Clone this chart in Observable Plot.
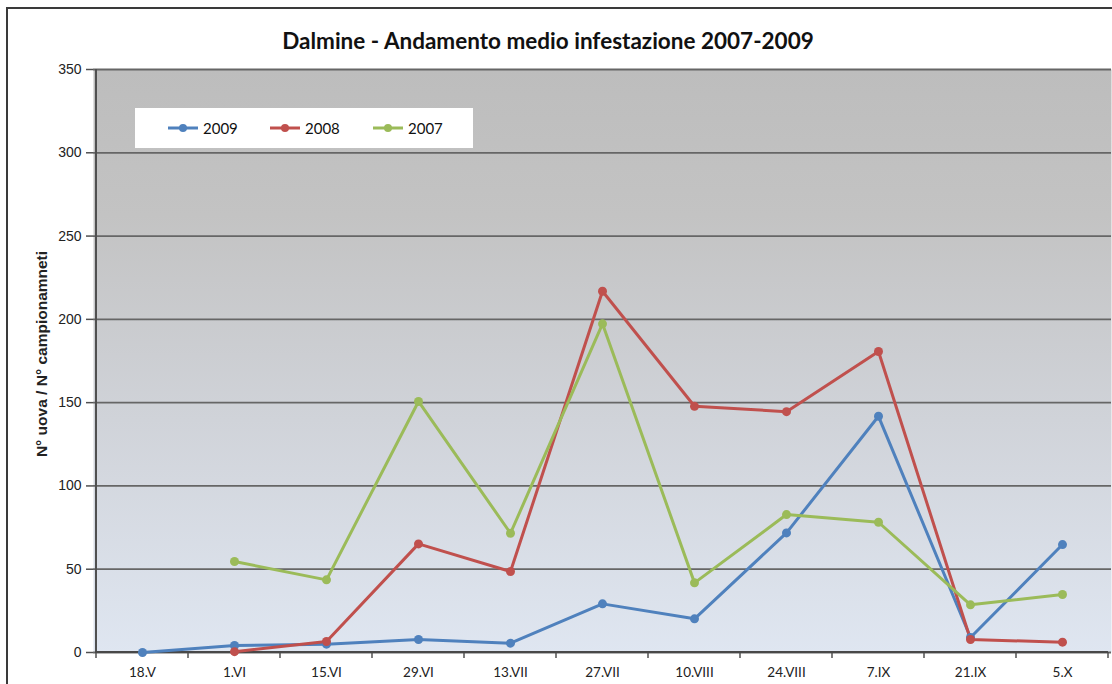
<!DOCTYPE html>
<html>
<head>
<meta charset="utf-8">
<script src="https://cdn.jsdelivr.net/npm/d3@7"></script>
<script src="https://cdn.jsdelivr.net/npm/@observablehq/plot@0.6"></script>
<style>
  html, body { margin: 0; padding: 0; background: #fff; overflow: hidden; }
  #wrap { position: relative; width: 1112px; height: 684px; overflow: hidden; }
  #border { position: absolute; left: 6px; top: 7px; width: 1106px; height: 677px; border-left: 2px solid #3a3a3a; border-top: 2px solid #3a3a3a; box-sizing: border-box; pointer-events: none; }
  #title { position: absolute; left: 0; top: 27px; width: 1096px; text-align: center; font: bold 22.5px Lato, "Open Sans", sans-serif; color: #111; }
  #legend { position: absolute; left: 135px; top: 108px; width: 338px; height: 40px; background: #fff; font: 15px Lato, sans-serif; color: #111; }
  .item { display: flex; align-items: center; position: absolute; top: 0; height: 40px; }
  .item svg { margin-right: 5px; }
  #chart { position: absolute; left: 0; top: 0; }
</style>
</head>
<body>
<div id="wrap">
  <div id="chart"></div>
  <div id="title"></div>
  <div id="legend"></div>
  <div id="border"></div>
</div>
<script>
const titleText = "Dalmine - Andamento medio infestazione 2007-2009";
const yLabel = "N° uova / N° campionamneti";
const dates = ["18.V", "1.VI", "15.VI", "29.VI", "13.VII", "27.VII", "10.VIII", "24.VIII", "7.IX", "21.IX", "5.X"];
const years = ["2009", "2008", "2007"];
const colors = ["#4f81bd", "#c0504d", "#9bbb59"];
const v2009 = [0, 4.2, 5.0, 7.8, 5.6, 29.2, 20.2, 71.8, 141.8, 9.0, 64.8];
const v2008 = [null, 0.5, 6.6, 65.2, 48.6, 216.9, 147.8, 144.6, 180.7, 7.8, 6.2];
const v2007 = [null, 54.6, 43.6, 150.7, 71.6, 197.3, 41.8, 82.8, 78.2, 28.6, 34.8];
const yTicks = [0, 50, 100, 150, 200, 250, 300, 350];

const seriesValues = {"2009": v2009, "2008": v2008, "2007": v2007};
const rows = years.flatMap(yr => dates.map((d, i) => ({date: d, year: yr, v: seriesValues[yr][i]})))
  .filter(r => r.v != null);

document.getElementById("title").textContent = titleText;

// Legend
const legend = document.getElementById("legend");
const legendX = [33, 135, 238];
years.forEach((yr, i) => {
  const it = document.createElement("div");
  it.className = "item";
  it.style.left = legendX[i] + "px";
  it.innerHTML = `<svg width="30" height="10"><line x1="0" x2="30" y1="5" y2="5" stroke="${colors[i]}" stroke-width="3"/><circle cx="15" cy="5" r="4" fill="${colors[i]}"/></svg><span>${yr}</span>`;
  legend.appendChild(it);
});

function boundaryTicks(index, scales) {
  const x = scales.x, y = scales.y;
  const step = x(dates[1]) - x(dates[0]);
  const y0 = y(0);
  const bounds = dates.map(d => x(d) - step / 2).concat([x(dates[dates.length - 1]) + step / 2]);
  const g = d3.create("svg:g");
  g.selectAll("line.t").data(bounds).join("line")
    .attr("x1", d => d).attr("x2", d => d)
    .attr("y1", y0).attr("y2", y0 + 6)
    .attr("stroke", "#505050").attr("stroke-width", 1.5);
  g.append("line")
    .attr("x1", bounds[0]).attr("x2", bounds[0])
    .attr("y1", y(350)).attr("y2", y0 + 1)
    .attr("stroke", "#505050").attr("stroke-width", 2);
  g.append("line")
    .attr("x1", bounds[0] - 1).attr("x2", bounds[bounds.length - 1])
    .attr("y1", y0).attr("y2", y0)
    .attr("stroke", "#484848").attr("stroke-width", 2);
  return g.node();
}

const chart = Plot.plot({
  width: 1112,
  height: 684,
  marginLeft: 93,
  marginRight: 1,
  marginTop: 69,
  marginBottom: 32,
  style: {background: "transparent", fontFamily: "Liberation Sans, Arial, sans-serif", color: "#222"},
  x: {type: "point", domain: dates, padding: 0.5, label: null},
  y: {domain: [0, 350], label: null},
  color: {domain: years, range: colors},
  marks: [
    Plot.frame({fill: "url(#bgGrad)", stroke: null}),
    Plot.gridY(yTicks, {stroke: "#666", strokeOpacity: 1, strokeWidth: 1.8}),
    Plot.axisY(yTicks, {tickSize: 7, tickPadding: 5, fontSize: 14, label: null, stroke: "#505050", strokeWidth: 1.5}),
    Plot.text([yLabel], {frameAnchor: "left", textAnchor: "middle", rotate: -90, dx: -51, dy: -7, fontSize: 15.5, fontWeight: "bold", fill: "#222"}),
    Plot.axisX({tickSize: 0, tickPadding: 15, fontSize: 13.5, fontFamily: "Lato, sans-serif", label: null}),
    boundaryTicks,
    Plot.line(rows, {x: "date", y: "v", z: "year", stroke: "year", strokeWidth: 3, strokeLinejoin: "round"}),
    Plot.dot(rows, {x: "date", y: "v", fill: "year", r: 4.5})
  ]
});

const svg = chart.tagName.toLowerCase() === "svg" ? chart : chart.querySelector("svg");
const defs = d3.select(svg).insert("defs", ":first-child");
const grad = defs.append("linearGradient").attr("id", "bgGrad")
  .attr("x1", 0).attr("y1", 0).attr("x2", 0).attr("y2", 1);
grad.append("stop").attr("offset", "0%").attr("stop-color", "#bdbdbd");
grad.append("stop").attr("offset", "25%").attr("stop-color", "#c3c3c3");
grad.append("stop").attr("offset", "60%").attr("stop-color", "#d0d3d9");
grad.append("stop").attr("offset", "100%").attr("stop-color", "#dfe6f1");

document.getElementById("chart").appendChild(chart);
</script>
</body>
</html>
